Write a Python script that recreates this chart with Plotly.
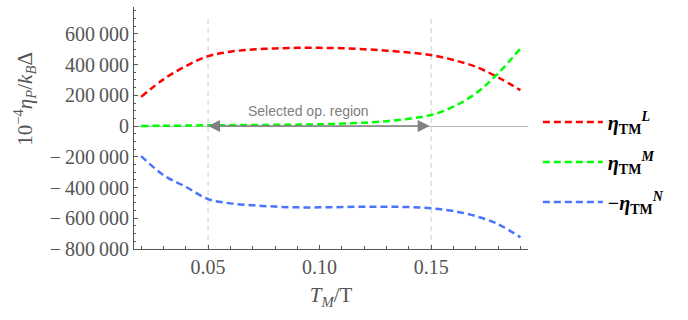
import plotly.graph_objects as go

# Data
T = [0.02, 0.03, 0.04, 0.05, 0.06, 0.07, 0.08, 0.09, 0.10, 0.11, 0.12, 0.13, 0.14, 0.15, 0.16, 0.17, 0.18, 0.19]
eta_L = [190000, 304000, 390000, 455000, 484000, 499000, 505000, 509000, 509000, 507000, 500000, 491000, 479000, 462000, 430000, 386000, 317000, 234000]
eta_M = [1000, 2000, 3000, 5000, 6000, 7000, 8000, 9000, 12000, 16000, 22000, 32000, 48000, 72000, 126000, 213000, 343000, 505000]
neg_eta_N = [-195000, -319000, -395000, -475000, -503000, -515000, -524000, -529000, -529000, -527000, -525000, -525000, -527000, -535000, -553000, -586000, -638000, -724000]

names = ["<b><i>η</i></b><sub><b>TM</b></sub><sup><b><i>L</i></b></sup>",
         "<b><i>η</i></b><sub><b>TM</b></sub><sup><b><i>M</i></b></sup>",
         "<b>−</b><b><i>η</i></b><sub><b>TM</b></sub><sup><b><i>N</i></b></sup>"]
colors = ["#FF0000", "#00FF00", "#4A74FF"]

y_tickvals = [600000, 400000, 200000, 0, -200000, -400000, -600000, -800000]
y_ticktext = ["600\u2009000", "400\u2009000", "200\u2009000", "0", "−\u2009200\u2009000",
              "−\u2009400\u2009000", "−\u2009600\u2009000", "−\u2009800\u2009000"]
x_tickvals = [0.05, 0.10, 0.15]
x_ticktext = ["0.05", "0.10", "0.15"]
region = [0.05, 0.15]

SERIF = "Liberation Serif, Times New Roman, serif"

fig = go.Figure()
for i, (yv, nm, c) in enumerate(zip([eta_L, eta_M, neg_eta_N], names, colors)):
    fig.add_trace(go.Scatter(x=T, y=yv, mode="lines", name=nm, line_shape="spline",
                             legendgroup=f"g{i}",
                             line=dict(color=c, width=2.5, dash="7px,4px")))

for xv in region:
    fig.add_shape(type="line", x0=xv, x1=xv, y0=-800000, y1=700000, xref="x", yref="y",
                  line=dict(color="#CCCCCC", width=1, dash="5px,4px"), layer="below")

fig.add_annotation(x=region[0], y=0, ax=region[1], ay=0, xref="x", yref="y", axref="x", ayref="y",
                   text="", showarrow=True, arrowhead=2, arrowside="end+start",
                   arrowsize=1.6, arrowwidth=1.5, arrowcolor="#808080")
fig.add_annotation(x=0.095, y=95000, xref="x", yref="y", text="Selected op. region",
                   showarrow=False, font=dict(family="Liberation Sans, Arial, sans-serif", size=14, color="#808080"))

# y-axis title placed as rotated annotation
fig.add_annotation(x=-0.277, y=0.62, xref="paper", yref="paper", xanchor="center", yanchor="middle",
                   text="10<sup>−4</sup><i>η<sub>P</sub></i>/<i>k<sub>B</sub></i>Δ", textangle=-90,
                   showarrow=False, font=dict(family=SERIF, size=21, color="#555555"))

fig.update_layout(
    width=688, height=320, margin=dict(l=134, r=160, t=7, b=71),
    paper_bgcolor="white", plot_bgcolor="white",
    font=dict(family=SERIF, color="#555555"),
    showlegend=True,
    legend=dict(x=1.025, xanchor="left", y=0.36, yanchor="middle",
                font=dict(family=SERIF, size=20, color="black"),
                tracegroupgap=11, itemwidth=60),
    xaxis=dict(range=[0.0168, 0.1934], showgrid=False, zeroline=False,
               showline=True, linecolor="#555555", linewidth=1,
               tickmode="array", tickvals=x_tickvals, ticktext=x_ticktext,
               ticks="inside", ticklen=4, tickcolor="#555555",
               tickfont=dict(family=SERIF, size=20, color="#555555"),
               minor=dict(tickmode="array", tickvals=[0.02 + 0.01 * i for i in range(18)],
                          ticks="inside", ticklen=3, tickcolor="#555555"),
               title=dict(text="<i>T<sub>M</sub></i>/T", font=dict(family=SERIF, size=21, color="#555555"), standoff=10)),
    yaxis=dict(range=[-800000, 775000], showgrid=False, zeroline=True, zerolinecolor="#BBBBBB", zerolinewidth=1,
               showline=True, linecolor="#555555", linewidth=1,
               tickmode="array", tickvals=y_tickvals, ticktext=y_ticktext,
               ticks="inside", ticklen=4, tickcolor="#555555",
               tickfont=dict(family=SERIF, size=20, color="#555555"),
               minor=dict(tickmode="array", tickvals=[-750000 + 50000 * i for i in range(31)],
                          ticks="inside", ticklen=2, tickcolor="#555555")),
)

fig.write_html("out.html")
